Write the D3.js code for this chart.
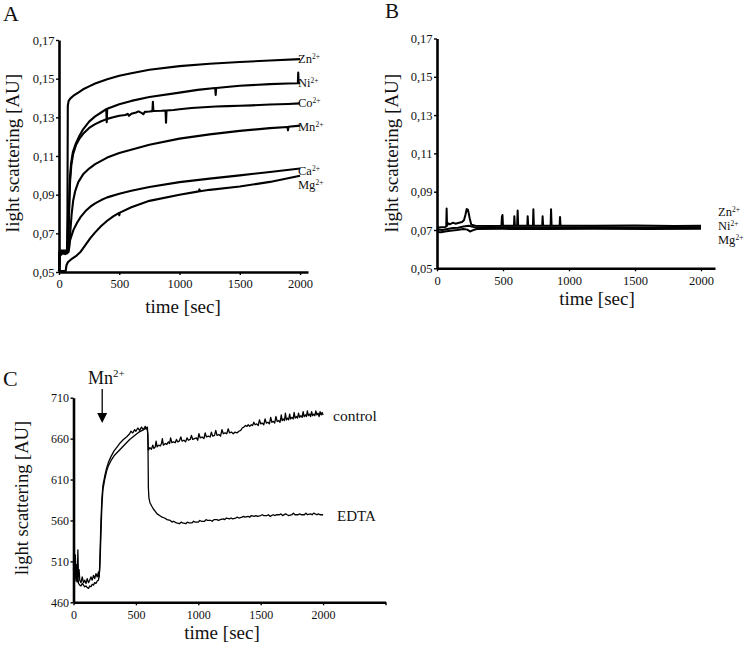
<!DOCTYPE html>
<html><head><meta charset="utf-8">
<script src="https://cdn.jsdelivr.net/npm/d3@7/dist/d3.min.js"></script>
<style>
body{margin:0;background:#fff}
svg{display:block}
text{font-family:"Liberation Serif","Times New Roman",serif;fill:#111}
</style>
</head><body>
<svg id="chart" width="748" height="652"></svg>
<script>
// ---------- Panel A data ----------
const tickA_x = [0, 500, 1000, 1500, 2000];
const tickA_y = [0.05, 0.07, 0.09, 0.11, 0.13, 0.15, 0.17];
const labelsA = ["Zn", "Ni", "Co", "Mn", "Ca", "Mg"];
const labelA_value = [0.1602, 0.1478, 0.1375, 0.1254, 0.1025, 0.0953];

const A_Zn = [[0,0.0505],[5,0.0603],[20,0.0597],[35,0.0612],[50,0.0598],[66,0.0605],[70,0.080],[73,0.136],[80,0.1385],[95,0.1398],[120,0.1412],[160,0.1428],[200,0.1445],[250,0.146],[300,0.1475],[400,0.1497],[500,0.1515],[600,0.1528],[750,0.1546],[1000,0.1565],[1250,0.1577],[1500,0.1586],[1750,0.1594],[2000,0.1601]];
const A_Ni = [[0,0.0505],[5,0.0598],[20,0.0612],[35,0.0595],[50,0.0608],[65,0.0600],[75,0.062],[82,0.080],[90,0.098],[100,0.106],[115,0.112],[140,0.1165],[170,0.1205],[200,0.1238],[250,0.1278],[300,0.1305],[350,0.1325],[392,0.1342],[396,0.1275],[400,0.1344],[450,0.1356],[500,0.1368],[600,0.1385],[750,0.1405],[1000,0.1428],[1150,0.1442],[1296,0.1452],[1300,0.1416],[1304,0.1452],[1500,0.1463],[1750,0.1472],[1900,0.1475],[1982,0.1476],[1985,0.1532],[1988,0.1477],[2000,0.1477]];
const A_Co = [[0,0.0505],[5,0.0608],[20,0.0595],[35,0.0605],[50,0.0592],[65,0.0606],[76,0.063],[84,0.082],[92,0.097],[102,0.105],[117,0.111],[140,0.1155],[170,0.119],[200,0.1215],[250,0.1245],[300,0.1265],[350,0.128],[400,0.1292],[450,0.130],[500,0.1308],[550,0.1312],[570,0.1318],[580,0.1308],[600,0.1318],[640,0.1325],[660,0.1331],[688,0.1322],[700,0.1316],[712,0.1328],[750,0.1330],[775,0.1332],[779,0.1380],[783,0.1333],[850,0.1334],[884,0.1335],[888,0.1272],[892,0.1335],[950,0.1338],[1000,0.1342],[1100,0.1348],[1200,0.1352],[1300,0.1356],[1400,0.1358],[1500,0.1360],[1600,0.1362],[1750,0.1366],[1900,0.1369],[2000,0.1372]];
const A_Mn = [[0,0.0505],[5,0.0602],[20,0.0590],[35,0.0608],[50,0.0600],[65,0.0595],[80,0.0605],[88,0.064],[95,0.072],[105,0.080],[118,0.087],[135,0.092],[160,0.0965],[200,0.1005],[250,0.1035],[300,0.1058],[400,0.1092],[500,0.1115],[750,0.1158],[1000,0.1190],[1250,0.1212],[1500,0.1230],[1750,0.1244],[1896,0.1250],[1900,0.1233],[1904,0.1251],[2000,0.1257]];
const A_Ca = [[0,0.0505],[5,0.0595],[20,0.0608],[35,0.0598],[50,0.0612],[62,0.0605],[80,0.064],[100,0.068],[120,0.0718],[150,0.0755],[180,0.0785],[220,0.0815],[260,0.0838],[300,0.0855],[350,0.0872],[400,0.0886],[500,0.0905],[600,0.0920],[750,0.0940],[1000,0.0965],[1250,0.0983],[1500,0.1000],[1750,0.1017],[2000,0.1035]];
const A_Mg = [[0,0.0505],[55,0.0505],[62,0.0535],[75,0.0552],[100,0.0565],[140,0.0582],[180,0.0605],[220,0.0640],[260,0.0675],[300,0.0705],[350,0.0738],[400,0.0765],[450,0.0788],[495,0.0805],[500,0.0793],[505,0.0807],[600,0.0835],[750,0.0868],[1000,0.0900],[1160,0.0917],[1165,0.0927],[1170,0.0918],[1250,0.0925],[1500,0.0942],[1750,0.0966],[2000,0.0998]];

// ---------- Panel B data ----------
const tickB_x = [0, 500, 1000, 1500, 2000];
const tickB_y = [0.05, 0.07, 0.09, 0.11, 0.13, 0.15, 0.17];
const labelsB = ["Zn", "Ni", "Mg"];
const labelB_value = [0.0797, 0.0724, 0.0650];

const B_Zn = [[0,0.0712],[30,0.0714],[60,0.0716],[70,0.0718],[73,0.0812],[76,0.0722],[85,0.0735],[100,0.0730],[120,0.0738],[140,0.0733],[160,0.0737],[190,0.0742],[205,0.0752],[215,0.0778],[225,0.0810],[235,0.0805],[248,0.0760],[260,0.0728],[290,0.0722],[400,0.0721],[488,0.0722],[492,0.0770],[496,0.0778],[500,0.0722],[583,0.0722],[586,0.0772],[590,0.0722],[607,0.0722],[611,0.0802],[615,0.0722],[684,0.0722],[687,0.0772],[691,0.0722],[727,0.0722],[730,0.0808],[734,0.0722],[797,0.0722],[800,0.0772],[804,0.0722],[861,0.0722],[864,0.0808],[868,0.0722],[929,0.0722],[932,0.0768],[936,0.0722],[1200,0.0722],[1500,0.0723],[1800,0.0721],[2000,0.0722]];
const B_Ni = [[0,0.0702],[40,0.0700],[80,0.0705],[120,0.0710],[160,0.0712],[200,0.0718],[240,0.0722],[280,0.0715],[350,0.0713],[500,0.0714],[800,0.0713],[1200,0.0714],[1600,0.0713],[2000,0.0714]];
const B_Mg = [[0,0.0690],[30,0.0688],[60,0.0692],[100,0.0696],[150,0.0700],[200,0.0705],[230,0.0702],[250,0.0692],[270,0.0698],[300,0.0705],[500,0.0706],[800,0.0705],[1200,0.0706],[1600,0.0705],[2000,0.0706]];

// ---------- Panel C data ----------
const tickC_x = [0, 500, 1000, 1500, 2000, 2500];
const tickC_xLabels = ["0", "500", "1000", "1500", "2000", ""];
const tickC_y = [460, 510, 560, 610, 660, 710];
const C_control = [[0,505],[5,520],[10,497],[15,512],[20,489],[25,506],[30,487],[35,524],[40,491],[45,500],[50,487],[60,484],[70,491],[80,484],[90,487],[100,483],[110,489],[120,484],[130,487],[140,491],[150,487],[160,493],[170,489],[180,495],[190,491],[200,497],[205,491],[210,505],[215,532],[220,560],[228,588],[236,603],[250,614],[265,624],[280,631],[300,638],[325,645],[350,650],[375,655],[400,659],[425,662],[450,666],[460,669],[475,667],[490,671],[500,669],[515,673],[530,670],[545,674],[560,671],[575,675],[585,672],[592,674],[596,660],[600,646],[612,649],[625,647],[635,652],[645,648],[655,650],[662,657],[670,650],[683,652],[695,651],[705,654],[712,660],[720,652],[735,654],[748,653],[760,656],[770,654],[778,661],[788,655],[800,656],[815,655],[825,659],[835,656],[848,657],[860,662],[870,657],[885,658],[898,656],[910,661],[920,658],[935,659],[945,664],[955,659],[970,660],[985,661],[995,658],[1005,666],[1015,661],[1030,662],[1045,660],[1055,667],[1065,662],[1080,663],[1095,662],[1105,668],[1115,663],[1130,664],[1140,670],[1150,664],[1165,665],[1178,663],[1190,671],[1200,666],[1215,667],[1228,666],[1240,672],[1250,667],[1265,668],[1280,666],[1295,668],[1310,667],[1325,669],[1340,670],[1352,673],[1365,674],[1378,676],[1390,675],[1400,677],[1412,675],[1425,677],[1435,676],[1445,680],[1455,677],[1468,678],[1480,676],[1490,683],[1500,678],[1512,679],[1525,677],[1535,684],[1545,679],[1558,680],[1570,678],[1580,686],[1590,680],[1602,681],[1612,679],[1622,687],[1632,681],[1645,682],[1655,680],[1665,689],[1672,682],[1680,684],[1690,682],[1698,691],[1706,683],[1715,685],[1724,683],[1732,690],[1740,684],[1750,686],[1760,684],[1768,692],[1776,685],[1786,687],[1795,685],[1803,691],[1812,686],[1822,688],[1832,686],[1840,693],[1848,687],[1858,689],[1866,687],[1874,694],[1882,688],[1892,690],[1900,687],[1908,693],[1916,688],[1925,690],[1934,688],[1942,694],[1950,689],[1960,691],[1968,687],[1976,693],[1984,689],[1992,692],[2000,689]];
const C_edta = [[0,500],[5,512],[10,494],[15,518],[20,486],[25,497],[30,485],[35,493],[40,483],[50,481],[60,480],[70,483],[80,481],[90,479],[100,480],[110,478],[120,477],[130,480],[140,479],[150,482],[160,481],[170,484],[180,483],[190,486],[200,487],[205,492],[210,500],[215,520],[220,545],[228,580],[236,598],[250,610],[265,620],[280,627],[300,633],[325,639],[350,643],[375,647],[400,651],[425,655],[450,659],[475,662],[500,665],[525,668],[550,670],[575,672],[590,673],[596,665],[600,600],[604,588],[612,582],[625,578],[640,574],[655,571],[670,568],[690,566],[710,564],[730,563],[750,561],[775,560],[790,558],[800,559],[825,557],[850,556],[862,558],[875,557],[900,556],[912,558],[925,557],[950,557],[962,559],[975,558],[1000,558],[1012,560],[1025,559],[1050,559],[1062,561],[1075,560],[1100,560],[1112,559],[1125,561],[1150,561],[1162,560],[1175,561],[1200,562],[1212,561],[1225,563],[1250,562],[1262,563],[1275,562],[1300,563],[1312,564],[1325,563],[1350,564],[1362,565],[1375,564],[1400,565],[1412,564],[1425,566],[1450,565],[1462,566],[1475,565],[1500,566],[1512,567],[1525,566],[1550,566],[1562,567],[1575,565],[1600,567],[1612,566],[1625,567],[1650,567],[1662,568],[1675,566],[1700,568],[1712,567],[1725,566],[1750,567],[1762,569],[1775,567],[1800,567],[1812,568],[1825,567],[1850,567],[1862,569],[1875,567],[1900,568],[1912,567],[1925,569],[1950,567],[1962,568],[1975,567],[2000,567]];
const labelsC = ["control", "EDTA"];
const labelC_value = [688, 566];
const arrowC_time = 230;

// ---------- drawing ----------
const svg = d3.select("#chart");
const commaFmt = d => d3.format(".2f")(d).replace(".", ",");

function axes(g, x, y, xt, yt, yfmt, xfmt, xPad, fs) {
  const ax = g.append("g").attr("transform", `translate(0,${y.range()[0]})`)
    .call(d3.axisBottom(x).tickValues(xt).tickSize(3).tickSizeOuter(0).tickPadding(xPad).tickFormat(xfmt));
  const ay = g.append("g").attr("transform", `translate(${x.range()[0]},0)`)
    .call(d3.axisLeft(y).tickValues(yt).tickSize(3).tickSizeOuter(0).tickPadding(1.5).tickFormat(yfmt));
  [ax, ay].forEach(a => {
    a.select(".domain").attr("stroke", "#000").attr("stroke-width", 2.6);
    a.selectAll(".tick line").attr("stroke", "#000").attr("stroke-width", 1.4);
    a.selectAll(".tick text").attr("font-family", "Liberation Serif, serif").attr("font-size", fs).attr("fill", "#111");
  });
}

function supLabel(g, x, y, base, sup, fs, sfs, raise) {
  const t = g.append("text").attr("x", x).attr("y", y).attr("font-size", fs);
  t.append("tspan").text(base);
  t.append("tspan").attr("font-size", sfs).attr("dy", -raise).text(sup);
  return t;
}

function ylabel(g, x, y, fs) {
  g.append("text").attr("transform", `translate(${x},${y}) rotate(-90)`)
    .attr("text-anchor", "middle").attr("dominant-baseline", "central")
    .attr("font-size", fs).text("light scattering [AU]");
}
function xlabel(g, x, y, fs) {
  g.append("text").attr("x", x).attr("y", y).attr("text-anchor", "middle")
    .attr("dominant-baseline", "central").attr("font-size", fs).text("time [sec]");
}

// Panel A
{
  const g = svg.append("g");
  const x = d3.scaleLinear().domain([0, 2066]).range([59, 308]);
  const y = d3.scaleLinear().domain([0.05, 0.17]).range([272, 40]);
  const line = d3.line().x(d => x(d[0])).y(d => y(d[1]));
  [A_Zn, A_Ni, A_Co, A_Mn, A_Ca, A_Mg].forEach(s => {
    g.append("path").attr("d", line(s)).attr("fill", "none").attr("stroke", "#000")
      .attr("stroke-width", 2.1).attr("stroke-linejoin", "round");
  });
  axes(g, x, y, tickA_x, tickA_y, commaFmt, d3.format("d"), 4.5, 12.5);
  labelsA.forEach((l, i) => supLabel(g, 298, y(labelA_value[i]) + 4.3, l, "2+", 12.5, 7.5, 4));
  ylabel(g, 12, 153, 19);
  xlabel(g, 183, 306, 19);
  g.append("text").attr("x", 3).attr("y", 21).attr("font-size", 22).text("A");
}

// Panel B
{
  const g = svg.append("g");
  const x = d3.scaleLinear().domain([0, 2106]).range([437, 715]);
  const y = d3.scaleLinear().domain([0.05, 0.17]).range([268.3, 38.5]);
  const line = d3.line().x(d => x(d[0])).y(d => y(d[1]));
  [B_Mg, B_Ni, B_Zn].forEach(s => {
    g.append("path").attr("d", line(s)).attr("fill", "none").attr("stroke", "#000")
      .attr("stroke-width", 2).attr("stroke-linejoin", "round");
  });
  axes(g, x, y, tickB_x, tickB_y, commaFmt, d3.format("d"), 4.6, 12.5);
  labelsB.forEach((l, i) => supLabel(g, 718, y(labelB_value[i]) + 4.3, l, "2+", 12.5, 7.5, 4));
  ylabel(g, 391.5, 153, 19);
  xlabel(g, 597, 298, 19);
  g.append("text").attr("x", 385).attr("y", 18).attr("font-size", 21).text("B");
}

// Panel C
{
  const g = svg.append("g");
  const x = d3.scaleLinear().domain([0, 2500]).range([73.5, 385.5]);
  const y = d3.scaleLinear().domain([460, 710]).range([602.3, 397.7]);
  const line = d3.line().x(d => x(d[0])).y(d => y(d[1]));
  [C_edta, C_control].forEach(s => {
    g.append("path").attr("d", line(s)).attr("fill", "none").attr("stroke", "#000")
      .attr("stroke-width", 1.3).attr("stroke-linejoin", "round");
  });
  axes(g, x, y, tickC_x, tickC_y, d3.format("d"), (d, i) => tickC_xLabels[i], 5.5, 12);
  g.append("text").attr("x", 333).attr("y", y(labelC_value[0]) + 5).attr("font-size", 15.5).text(labelsC[0]);
  g.append("text").attr("x", 337).attr("y", y(labelC_value[1]) + 5).attr("font-size", 15).text(labelsC[1]);
  // Mn2+ arrow
  const ax = x(arrowC_time);
  supLabel(g, 88, 384, "Mn", "2+", 18, 11, 7);
  g.append("line").attr("x1", ax).attr("x2", ax).attr("y1", 389).attr("y2", 414)
    .attr("stroke", "#000").attr("stroke-width", 1.3);
  g.append("path").attr("d", `M${ax - 5},413 L${ax + 5},413 L${ax},423 Z`).attr("fill", "#000");
  ylabel(g, 22, 498, 18.5);
  xlabel(g, 222, 632, 19);
  g.append("text").attr("x", 3).attr("y", 386).attr("font-size", 22).text("C");
}
</script>
</body></html>
